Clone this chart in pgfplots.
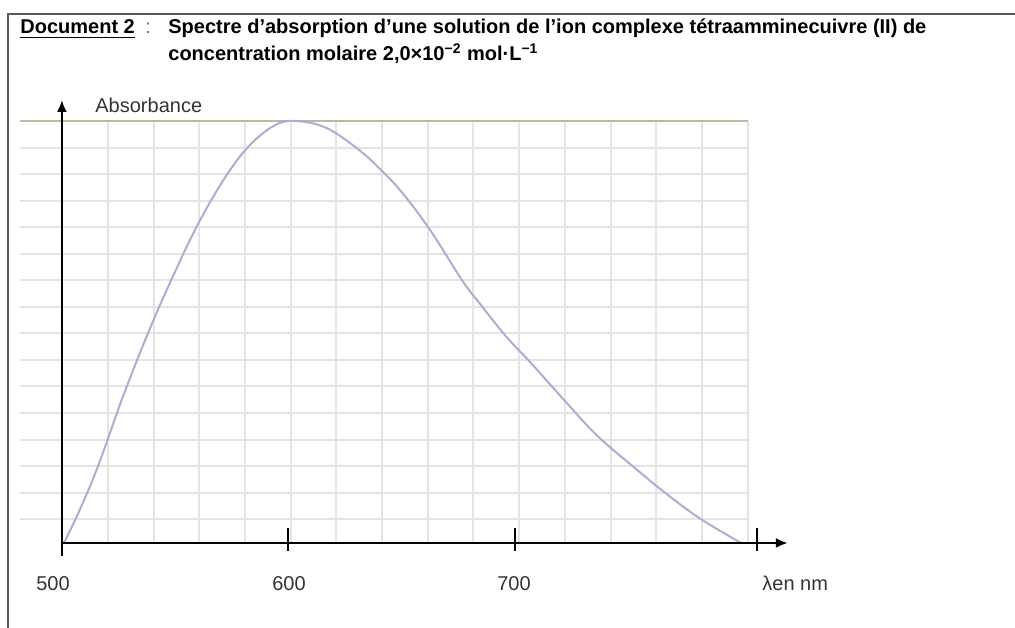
\documentclass[border=0pt]{standalone}
\usepackage{fontspec}
\setmainfont{Liberation Sans}
\usepackage{pgfplots}
\pgfplotsset{compat=1.18}
\usetikzlibrary{arrows.meta}
\definecolor{curve}{RGB}{170,174,208}
\definecolor{gridc}{RGB}{228,228,228}
\definecolor{topline}{RGB}{186,186,160}
\definecolor{frame}{RGB}{90,90,90}

\begin{document}
\begin{tikzpicture}[font=\fontsize{10bp}{12bp}\selectfont]
\begin{scope}[x=0.5bp,y=0.5bp]
\path[use as bounding box] (0,0) rectangle (1015,-628);
\draw[line width=1bp, frame] (8,-628) -- (8,-14) -- (1015,-14);

% title
\node[anchor=base west, inner sep=0] at (20,-34) {\bfseries\underline{Document 2}};
\node[anchor=base west, inner sep=0, text=black!55] at (145,-34) {:};
\node[anchor=base west, inner sep=0] at (168,-34) {\bfseries Spectre d'absorption d'une solution de l'ion complexe tétraamminecuivre (II) de};
\node[anchor=base west, inner sep=0] at (168,-61) {\bfseries concentration molaire 2,0×10\textsuperscript{\scriptsize −2} mol·L\textsuperscript{\scriptsize −1}};
\node[anchor=base west, inner sep=0, text=black!80] at (95,-113) {Absorbance};
\node[anchor=base, inner sep=0, text=black!80] at (53,-591) {500};
\node[anchor=base, inner sep=0, text=black!80] at (289,-591) {600};
\node[anchor=base, inner sep=0, text=black!80] at (514,-591) {700};
\node[anchor=base west, inner sep=0, text=black!80] at (762,-591) {λen nm};
\end{scope}

\begin{axis}[
    at={(10bp,-271.5bp)}, anchor=south west,
    scale only axis, width=364bp, height=211bp,
    xmin=481.5, xmax=802.9, ymin=0, ymax=1,
    clip=false,
    axis line style={draw=none},
    major tick length=0pt,
    xticklabels={}, yticklabels={},
    xtick={500.1,520.3,540.5,560.6,580.8,601.0,621.2,641.4,661.5,681.7,701.9,722.1,742.3,762.4,782.6,802.8},
    ytick={0.0565,0.1194,0.1823,0.2452,0.3081,0.371,0.4339,0.4968,0.5597,0.6226,0.6855,0.7484,0.8113,0.8742,0.9371},
    xmajorgrids, ymajorgrids,
    grid style={line width=1bp, gridc},
]
% top reference line
\addplot[line width=1.3bp, topline] coordinates {(481.5,1) (802.9,1)};
% absorption spectrum
\addplot[line width=1bp, curve, smooth, tension=0.6] coordinates {
(500.9,0) (508,0.08) (516,0.183) (527.5,0.355) (539,0.51) (548,0.62)
(560,0.755) (572.5,0.87) (583,0.943) (594,0.99) (603.5,1.0)
(617,0.983) (631.5,0.93) (642,0.878) (651,0.825) (663,0.738)
(677,0.62) (685,0.564) (696,0.49) (707,0.427) (721,0.343)
(736,0.256) (752,0.182) (767,0.116) (782,0.057) (799.8,0)
};
% axes
\draw[line width=1.25bp, -{Latex[length=6bp,width=5bp]}] (axis cs:500,0) -- (axis cs:820.5,0);
\draw[line width=1.25bp, -{Latex[length=6bp,width=5bp]}] (axis cs:500,-0.031) -- (axis cs:500,1.05);
\draw[line width=1bp] (axis cs:600,0.0355) -- (axis cs:600,-0.0185);
\draw[line width=1bp] (axis cs:700,0.0355) -- (axis cs:700,-0.0185);
\draw[line width=1bp] (axis cs:806.8,0.0355) -- (axis cs:806.8,-0.0185);
\end{axis}
\end{tikzpicture}
\end{document}
